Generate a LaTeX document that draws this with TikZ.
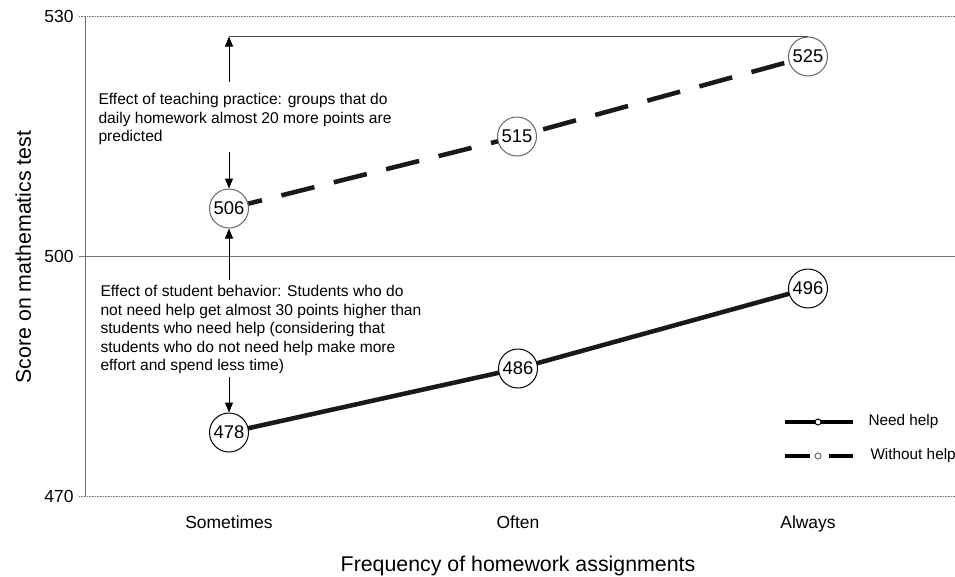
\documentclass[tikz,border=0pt]{standalone}
\usepackage{fontspec}
\setmainfont{Liberation Sans}
\usetikzlibrary{arrows.meta,backgrounds}

\tikzset{every picture/.style={line width=0.75pt}}
\tikzset{
  axisline/.style={draw=black!55, line width=0.75pt},
  gridline/.style={draw=black!55, line width=0.75pt, dash pattern=on 0.6pt off 0.6pt},
  valnode/.style={circle, fill=white, minimum size=29.25pt, inner sep=0pt, line width=0.75pt, font=\fontsize{13.8}{15}\selectfont},
  needcirc/.style={valnode, draw=black},
  withoutcirc/.style={valnode, draw=black!60},
  needline/.style={line width=3.4pt, draw=black!90},
  withoutline/.style={line width=3.4pt, draw=black!90, dash pattern=on 25.5pt off 15pt},
  arr/.style={-{Triangle[length=7.5pt,width=6pt]}, line width=0.75pt},
  notetext/.style={anchor=north west, inner sep=0pt, align=left, font=\fontsize{11.7}{13.9}\selectfont},
  ticklabel/.style={inner sep=0pt, font=\fontsize{13.1}{15}\selectfont},
  axistitle/.style={inner sep=0pt, font=\fontsize{16}{19}\selectfont},
  legtext/.style={anchor=west, inner sep=0pt, font=\fontsize{11.5}{13.9}\selectfont},
  legdot/.style={circle, fill=white, minimum size=4.5pt, inner sep=0pt, line width=0.75pt}
}

\begin{document}
\begin{tikzpicture}[x=0.75pt,y=0.75pt,yscale=-1,xscale=1]
\useasboundingbox (0,0) rectangle (955,576);

% Axes and grid
\draw[gridline] (79,16.5) -- (955,16.5);
\draw[axisline] (79,256.5) -- (955,256.5);
\draw[gridline] (79,496.5) -- (955,496.5);
\draw[axisline] (85,16.5) -- (85,496.5);

% Tick labels
\node[ticklabel, anchor=east] (y530) at (74,16.5) {530};
\node[ticklabel, anchor=east] (y500) at (74,256.5) {500};
\node[ticklabel, anchor=east] (y470) at (74,496.5) {470};
\node[ticklabel, anchor=base] (xsome) at (229,528) {Sometimes};
\node[ticklabel, anchor=base] (xoften) at (518,528) {Often};
\node[ticklabel, anchor=base] (xalways) at (808,528) {Always};

% Axis titles
\node[axistitle, anchor=base] (xtitle) at (518,571) {Frequency of homework assignments};
\node[axistitle, rotate=90, anchor=base] (ytitle) at (31,257) {Score on mathematics test};

% Value circles
\node[withoutcirc] (w1) at (229,208.5) {506};
\node[withoutcirc] (w2) at (517,136.5) {515};
\node[withoutcirc] (w3) at (808,56.5) {525};
\node[needcirc] (s1) at (229,432.5) {478};
\node[needcirc] (s2) at (518,368.5) {486};
\node[needcirc] (s3) at (808,288.5) {496};

% Data lines
\begin{scope}[on background layer]
\draw[withoutline] (w1.center) -- (w2.center) -- (w3.center);
\draw[needline] (s1.center) -- (s2.center) -- (s3.center);
\end{scope}

% Notes
\node[notetext] (t1) at (98,93) {Effect of teaching practice: groups that do\\daily homework almost 20 more points are\\predicted};
\node[notetext] (t2) at (100,285) {Effect of student behavior: Students who do\\not need help get almost 30 points higher than\\students who need help (considering that\\students who do not need help make more\\effort and spend less time)};

\coordinate (a1) at (229,82);
\coordinate (a2) at (229,152);
\coordinate (a3) at (229,280);
\coordinate (a4) at (229,377);
\draw[black!70] (w3.north) -- (w3.north -| w1);
\draw[arr] (a1) -- (w3.north -| w1);
\draw[arr] (a2) -- (w1);
\draw[arr] (a3) -- (w1);
\draw[arr] (a4) -- (s1);

% Legend
\coordinate (l1a) at (785,422);
\coordinate (l1b) at (853,422);
\coordinate (l2a) at (785,456);
\coordinate (l2b) at (810,456);
\coordinate (l2c) at (829,456);
\coordinate (l2d) at (853,456);
\draw[line width=3pt] (l1a) -- (l1b);
\node[legdot, draw=black] (ld1) at (818,422) {};
\draw[line width=3pt] (l2a) -- (l2b);
\draw[line width=3pt] (l2c) -- (l2d);
\node[legdot, draw=black!60] (ld2) at (818,456) {};
\node[legtext] (need) at (868,422) {Need help};
\node[legtext] (without) at (870,456) {Without help};

\end{tikzpicture}
\end{document}
